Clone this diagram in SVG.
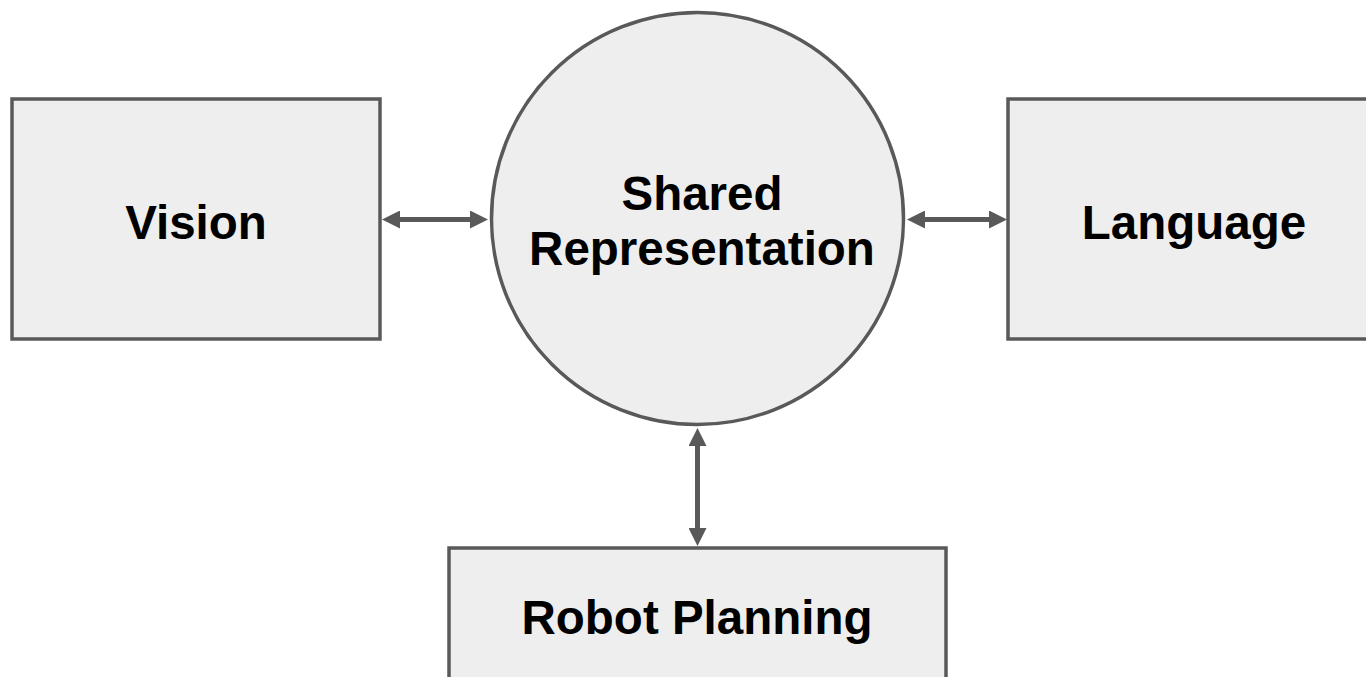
<svg xmlns="http://www.w3.org/2000/svg" width="1366" height="677" viewBox="0 0 1366 677">
  <style>
    .node { fill: #eeeeee; stroke: #595959; stroke-width: 3.5; }
    .label { font-family: "Liberation Sans", Arial, sans-serif; font-weight: bold; font-size: 47.5px; fill: #000000; text-anchor: middle; }
    .link { stroke: #595959; stroke-width: 5; fill: none; marker-start: url(#head); marker-end: url(#head); }
  </style>
  <defs>
    <marker id="head" markerUnits="userSpaceOnUse" viewBox="0 -9 18 18" refX="1" refY="0" markerWidth="18" markerHeight="18" orient="auto-start-reverse">
      <path d="M0,-9 L18,0 L0,9 z" fill="#595959"/>
    </marker>
  </defs>
  <rect width="1366" height="677" fill="#ffffff"/>

  <g id="vision">
    <rect class="node" x="12" y="99" width="368" height="240"/>
    <text class="label" x="196" y="239">Vision</text>
  </g>

  <g id="language">
    <rect class="node" x="1008" y="99" width="380" height="240"/>
    <text class="label" x="1194" y="239">Language</text>
  </g>

  <g id="shared-representation">
    <circle class="node" cx="697.5" cy="218.5" r="206"/>
    <text class="label" x="702" y="210">Shared</text>
    <text class="label" x="702" y="265">Representation</text>
  </g>

  <g id="robot-planning">
    <rect class="node" x="449" y="548" width="497" height="160"/>
    <text class="label" x="697" y="634">Robot Planning</text>
  </g>

  <g id="connectors">
    <line class="link" x1="399" y1="219.5" x2="471" y2="219.5"/>
    <line class="link" x1="924" y1="219.5" x2="990" y2="219.5"/>
    <line class="link" x1="697.5" y1="445" x2="697.5" y2="529"/>
  </g>
</svg>
